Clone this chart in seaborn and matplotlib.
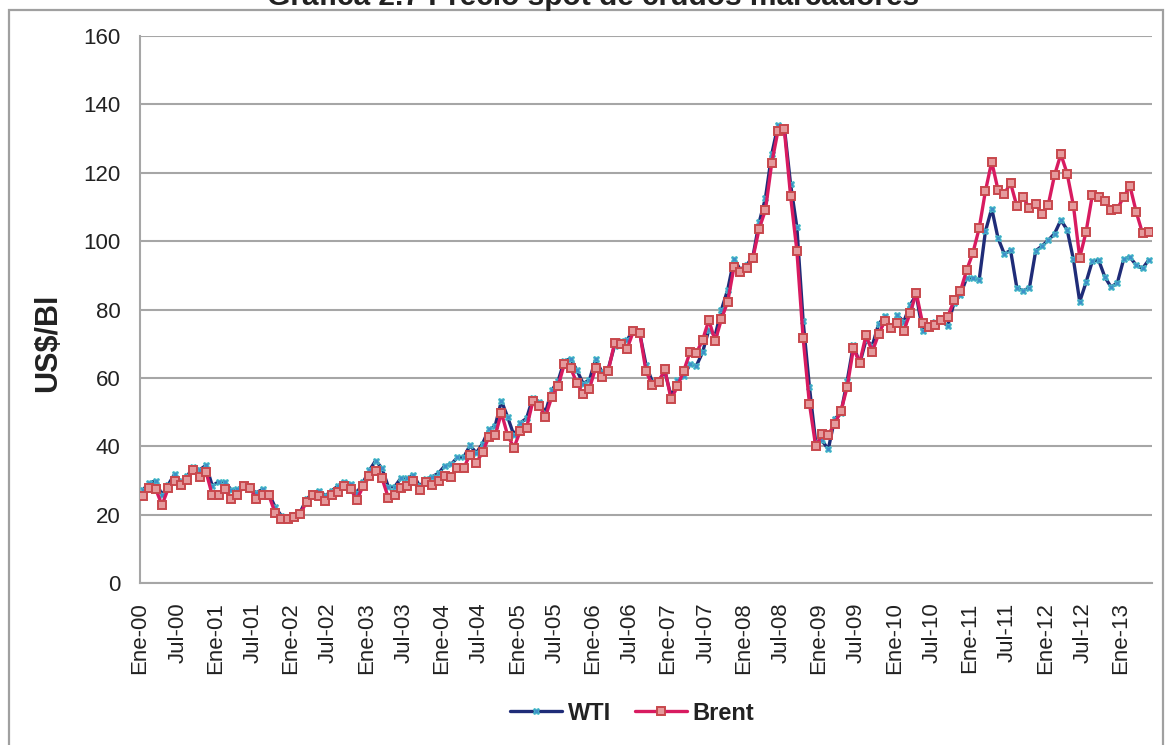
import numpy as np
import pandas as pd
import matplotlib
matplotlib.use("Agg")
import matplotlib.pyplot as plt
import seaborn as sns
from matplotlib.patches import Rectangle
from matplotlib.lines import Line2D

# ---------------- data (monthly, Ene-2000 .. May-2013) ----------------
wti = [
    27.26, 29.37, 29.84, 25.72, 28.79, 31.82, 29.70, 31.26, 33.88, 33.11, 34.42, 28.44,
    29.59, 29.61, 27.24, 27.49, 28.63, 27.60, 26.43, 27.37, 26.20, 22.17, 19.64, 19.39,
    19.72, 20.72, 24.53, 26.18, 27.04, 25.52, 26.97, 28.39, 29.66, 28.84, 26.35, 29.46,
    32.95, 35.83, 33.51, 28.17, 28.11, 30.66, 30.76, 31.57, 28.31, 30.34, 31.11, 32.13,
    34.31, 34.69, 36.74, 36.75, 40.28, 38.03, 40.78, 44.90, 45.94, 53.28, 48.47, 43.15,
    46.84, 48.15, 54.19, 52.98, 49.83, 56.35, 59.00, 64.99, 65.59, 62.26, 58.32, 59.41,
    65.49, 61.63, 62.69, 69.44, 70.84, 70.95, 74.41, 73.04, 63.80, 58.89, 59.08, 61.96,
    54.51, 59.28, 60.44, 63.98, 63.46, 67.49, 74.12, 72.36, 79.92, 85.80, 94.77, 91.69,
    92.97, 95.39, 105.45, 112.58, 125.40, 133.88, 133.37, 116.67, 104.11, 76.61, 57.31, 41.12,
    41.71, 39.09, 47.94, 49.65, 59.03, 69.64, 64.15, 71.05, 69.41, 75.72, 77.99, 74.47,
    78.33, 76.39, 81.20, 84.29, 73.74, 75.34, 76.32, 76.60, 75.24, 81.89, 84.25, 89.15,
    89.17, 88.58, 102.86, 109.53, 100.90, 96.26, 97.30, 86.33, 85.52, 86.32, 97.16, 98.56,
    100.27, 102.20, 106.16, 103.32, 94.66, 82.30, 87.90, 94.13, 94.51, 89.49, 86.53, 87.86,
    94.76, 95.31, 92.94, 92.02, 94.51,
]
brent = [
    25.51, 27.78, 27.49, 22.76, 27.74, 29.80, 28.68, 30.20, 33.14, 30.96, 32.55, 25.66,
    25.62, 27.50, 24.50, 25.66, 28.31, 27.85, 24.61, 25.68, 25.62, 20.54, 18.80, 18.71,
    19.42, 20.28, 23.70, 25.73, 25.35, 24.08, 25.74, 26.65, 28.40, 27.54, 24.34, 28.33,
    31.18, 32.77, 30.61, 25.00, 25.86, 27.65, 28.35, 29.89, 27.11, 29.61, 28.75, 29.81,
    31.28, 30.86, 33.63, 33.59, 37.57, 35.18, 38.22, 42.74, 43.20, 49.78, 43.11, 39.60,
    44.51, 45.48, 53.10, 51.88, 48.65, 54.35, 57.52, 63.98, 62.91, 58.54, 55.24, 56.86,
    62.99, 60.21, 62.06, 70.26, 69.78, 68.56, 73.67, 73.23, 61.96, 57.81, 58.76, 62.47,
    53.68, 57.56, 62.05, 67.49, 67.21, 71.05, 76.93, 70.76, 77.17, 82.34, 92.41, 90.93,
    92.18, 94.99, 103.64, 109.07, 122.80, 132.32, 132.72, 113.24, 97.23, 71.58, 52.45, 39.95,
    43.44, 43.32, 46.54, 50.18, 57.30, 68.61, 64.44, 72.51, 67.65, 72.77, 76.66, 74.46,
    76.17, 73.75, 78.83, 84.82, 75.95, 74.76, 75.58, 77.04, 77.84, 82.67, 85.28, 91.45,
    96.52, 103.72, 114.64, 123.26, 114.99, 113.83, 116.97, 110.22, 112.83, 109.55, 110.77, 107.87,
    110.69, 119.33, 125.45, 119.75, 110.34, 95.16, 102.62, 113.36, 112.86, 111.71, 109.06, 109.49,
    112.96, 116.05, 108.47, 102.25, 102.56,
]
years = list(range(2000, 2014))
tick_labels = []
for y in years:
    tick_labels.append(f"Ene-{y % 100:02d}")
    if y < 2013:
        tick_labels.append(f"Jul-{y % 100:02d}")
yticks = [0, 20, 40, 60, 80, 100, 120, 140, 160]
title = "Gráfica 2.7 Precio spot de crudos marcadores"
ylabel = "US$/Bl"

# ---------------- style ----------------
sns.set_theme(style="white")
plt.rcParams["font.family"] = ["Liberation Sans", "DejaVu Sans"]

W, H = 1173, 745
fig = plt.figure(figsize=(W / 100, H / 100), dpi=100)
ax = fig.add_axes([140 / W, (H - 583) / H, (1152 - 140) / W, (583 - 36) / H])

n = len(wti)
df = pd.DataFrame({"idx": np.arange(n), "WTI": wti, "Brent": brent})

wti_col = "#1F2C78"
brent_col = "#D81B60"
grid_col = "#A6A6A6"

wti_style = dict(color=wti_col, lw=2.4, marker="X", markersize=5,
                 markerfacecolor="#3E8FC9", markeredgecolor="#4CC3C9",
                 markeredgewidth=0.7)
brent_style = dict(color=brent_col, lw=2.4, marker="s", markersize=6.2,
                   markerfacecolor="#E59A9C", markeredgecolor="#C8474C",
                   markeredgewidth=1.4)

sns.lineplot(data=df, x="idx", y="WTI", ax=ax, zorder=3, **wti_style)
sns.lineplot(data=df, x="idx", y="Brent", ax=ax, zorder=4, **brent_style)

ax.set_xlim(-0.5, n - 0.5)
ax.set_ylim(0, 160)
ax.set_yticks(yticks)
ax.set_yticklabels([str(v) for v in yticks], fontsize=16, color="#222222")
ax.set_xticks([-0.5 + 6 * k for k in range(len(tick_labels))])
ax.set_xticklabels(tick_labels, rotation=90, fontsize=16, color="#222222")
ax.tick_params(axis="both", direction="out", length=7, width=1.3,
               color=grid_col, pad=7)
ax.set_xlabel("")
ax.set_ylabel("")
ax.grid(axis="y", color=grid_col, lw=1.5)
ax.set_axisbelow(True)
for s in ["top", "right"]:
    ax.spines[s].set_visible(False)
for s in ["left", "bottom"]:
    ax.spines[s].set_color(grid_col)
    ax.spines[s].set_linewidth(1.5)

fig.text(48 / W, (H - 343) / H, ylabel, rotation=90, ha="center", va="center",
         fontsize=22, fontweight="bold", color="#222222")

# title clipped at the top edge, as in the reference
fig.text(593 / W, (H - 5) / H, title, ha="center", va="baseline",
         fontsize=21.5, fontweight="bold", color="#222222")

# outer chart frame
fig.patches.append(Rectangle((9 / W, -0.05), (1163 - 9) / W, (H - 10) / H + 0.05,
                             transform=fig.transFigure, fill=False,
                             edgecolor="#A0A0A0", lw=1.6))

handles = [Line2D([], [], **wti_style), Line2D([], [], **brent_style)]
leg = fig.legend(handles, ["WTI", "Brent"], loc="center",
                 bbox_to_anchor=(632 / W, 32 / H), ncol=2, frameon=False,
                 handlelength=2.2, handletextpad=0.25, columnspacing=1.0,
                 prop={"size": 17, "weight": "bold"})
for t in leg.get_texts():
    t.set_color("#222222")

fig.savefig("out.png", dpi=100)
